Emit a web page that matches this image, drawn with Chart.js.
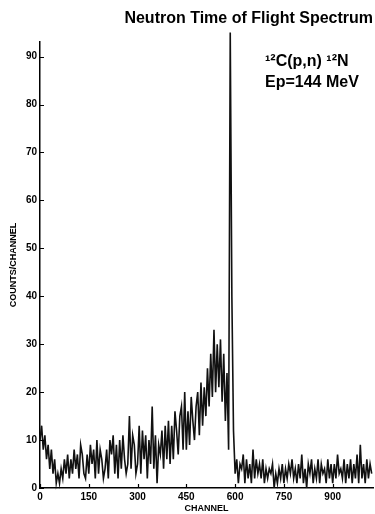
<!DOCTYPE html>
<html>
<head>
<meta charset="utf-8">
<script src="https://cdn.jsdelivr.net/npm/chart.js@4/dist/chart.umd.min.js"></script>
<style>
   html, body { margin: 0; padding: 0; background: #fff; }
   #wrap { width: 375px; height: 514px; }
</style>
</head>
<body>
<div id="wrap"><canvas id="tof"></canvas></div>
<script>
// counts per bin, one bin = 5 channels
var binWidth = 5;
var counts = [
   10, 13, 8, 11, 6, 9, 4, 8, 3, 6,
   1, 3, 1, 4, 2, 6, 3, 7, 2, 6,
   3, 8, 4, 7, 2, 9, 7, 3, 2, 7,
   3, 9, 5, 8, 2, 10, 3, 8, 6, 2,
   4, 8, 2, 10, 7, 11, 3, 9, 2, 10,
   4, 11, 6, 3, 5, 15, 4, 11, 9, 3,
   5, 13, 3, 12, 6, 11, 2, 10, 5, 17,
   4, 11, 1, 9, 7, 12, 4, 13, 6, 14,
   5, 13, 6, 16, 12, 7, 15, 17, 8, 20,
   8, 16, 9, 19, 14, 10, 17, 20, 11, 22,
   13, 21, 15, 25, 17, 28, 19, 33, 20, 30,
   21, 31, 18, 28, 14, 24, 8, 95, 40, 12,
   3, 6, 1, 5, 4, 7, 1, 6, 2, 5,
   1, 8, 2, 6, 3, 5, 2, 6, 1, 4,
   2, 4, 3, 5, 0, 3, 1, 4, 2, 5,
   1, 4, 2, 5, 3, 6, 2, 4, 1, 5,
   2, 7, 1, 4, 0, 5, 3, 6, 1, 4,
   2, 6, 1, 5, 3, 4, 1, 6, 2, 5,
   1, 5, 2, 7, 3, 4, 2, 6, 1, 5,
   2, 6, 1, 5, 2, 7, 1, 9, 2, 5,
   1, 6, 2, 5, 3
];
var xTicks = [0, 150, 300, 450, 600, 750, 900];
var yTicks = [0, 10, 20, 30, 40, 50, 60, 70, 80, 90];
var reactionLabel = '\u00b9\u00b2C(p,n) \u00b9\u00b2N';
var energyLabel = 'Ep=144 MeV';

var FONT = '"Liberation Sans", Arial, sans-serif';

// short tick marks pointing into the plot, plus the reaction text
var innerTicks = {
   id: 'innerTicks',
   afterDatasetsDraw: function(chart) {
      var ctx = chart.ctx, xs = chart.scales.x, ys = chart.scales.y;
      ctx.save();
      ctx.strokeStyle = '#000';
      ctx.lineWidth = 1.2;
      ctx.beginPath();
      yTicks.forEach(function(v) {
         var py = Math.round(ys.getPixelForValue(v)) + 0.5;
         ctx.moveTo(xs.left, py);
         ctx.lineTo(xs.left + 4, py);
      });
      xTicks.forEach(function(v) {
         var px = Math.round(xs.getPixelForValue(v)) + 0.5;
         ctx.moveTo(px, ys.bottom);
         ctx.lineTo(px, ys.bottom - 4);
      });
      ctx.stroke();

      ctx.fillStyle = '#000';
      ctx.font = 'bold 16px ' + FONT;
      ctx.textAlign = 'left';
      ctx.textBaseline = 'middle';
      ctx.fillText(reactionLabel, 265, 62);
      ctx.fillText(energyLabel, 265, 83);
      ctx.restore();
   }
};

var chartSettings = {
   type: 'line',
   data: {
      datasets: [{
         data: counts.map(function(c, i) { return { x: i * binWidth, y: c }; }),
         borderColor: '#111',
         borderWidth: 1.6,
         pointRadius: 0,
         tension: 0,
         clip: false
      }]
   },
   options: {
      responsive: true,
      maintainAspectRatio: false,
      animation: false,
      layout: { padding: { left: 0, right: 2, top: 0, bottom: 0 } },
      plugins: {
         legend: { display: false },
         tooltip: { enabled: false },
         title: {
            display: true,
            text: 'Neutron Time of Flight Spectrum',
            align: 'end',
            color: '#000',
            font: { family: FONT, size: 16, weight: 'bold' },
            padding: { top: 9, bottom: 14 }
         }
      },
      scales: {
         x: {
            type: 'linear',
            min: 0,
            max: 1024,
            grid: { display: false, drawTicks: false },
            border: { display: true, color: '#000', width: 1.5 },
            afterBuildTicks: function(scale) {
               scale.ticks = xTicks.map(function(v) { return { value: v }; });
            },
            afterFit: function(scale) { scale.height = 26; },
            ticks: {
               color: '#000',
               padding: 3,
               maxRotation: 0,
               font: { family: FONT, size: 10, weight: 'bold' }
            },
            title: {
               display: true,
               text: 'CHANNEL',
               color: '#000',
               font: { family: FONT, size: 9, weight: 'bold' },
               padding: { top: 3, bottom: 0 }
            }
         },
         y: {
            min: 0,
            max: 93,
            grid: { display: false, drawTicks: false },
            border: { display: true, color: '#000', width: 1.5 },
            afterBuildTicks: function(scale) {
               scale.ticks = yTicks.map(function(v) { return { value: v }; });
            },
            afterFit: function(scale) { scale.width = 40; },
            ticks: {
               color: '#000',
               padding: 3,
               font: { family: FONT, size: 10, weight: 'bold' }
            },
            title: {
               display: true,
               text: 'COUNTS/CHANNEL',
               color: '#000',
               font: { family: FONT, size: 9, weight: 'bold' },
               padding: { top: 8, bottom: 0 }
            }
         }
      }
   },
   plugins: [innerTicks]
};

new Chart(document.getElementById('tof'), chartSettings);
</script>
</body>
</html>
